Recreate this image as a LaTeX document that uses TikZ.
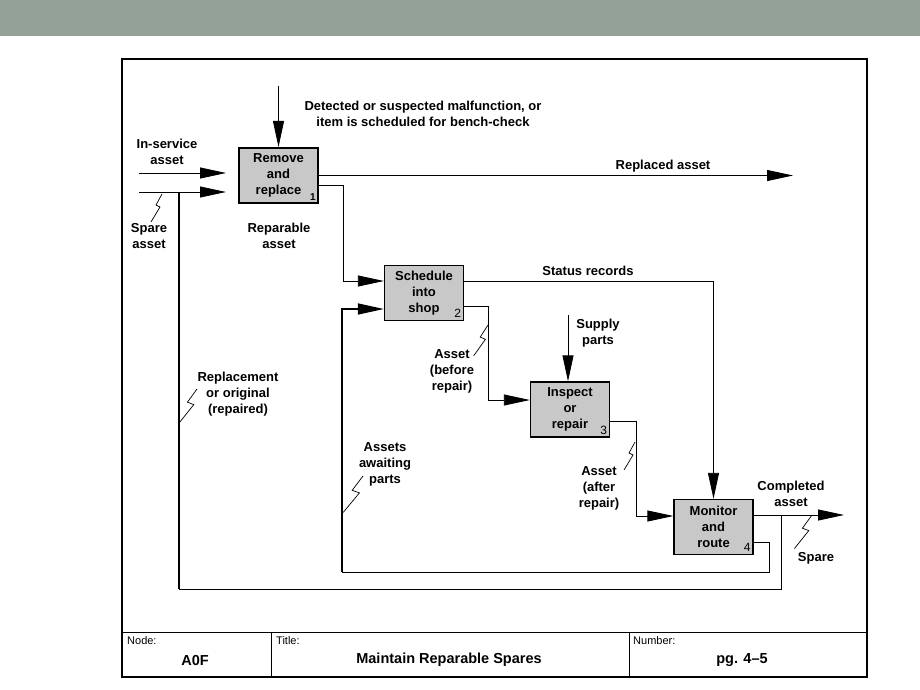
\documentclass[tikz,border=0pt]{standalone}
\usepackage{fontspec}
\setmainfont{Liberation Sans}
\usetikzlibrary{arrows.meta}
\definecolor{barcol}{RGB}{147,161,150}
\definecolor{boxcol}{RGB}{200,200,200}

\begin{document}
\begin{tikzpicture}[x=1pt,y=-1pt,
    lbl/.style={align=center,inner sep=0pt,font=\fontsize{13}{16}\selectfont\bfseries},
    act/.style={draw,line width=1.3pt,fill=boxcol,minimum width=79pt,minimum height=55pt,
        align=center,inner sep=0pt,font=\fontsize{13}{16}\selectfont\bfseries},
    num/.style={anchor=south east,inner sep=3pt,font=\fontsize{12}{12}\selectfont},
    small/.style={anchor=west,inner sep=0pt,font=\fontsize{11}{11}\selectfont},
    big/.style={inner sep=0pt,font=\fontsize{14.5}{16}\selectfont\bfseries},
    flow/.style={line width=0.8pt},
    arr/.style={flow,-{Triangle[length=26pt,width=11pt]}},
    squig/.pic={\draw[line width=0.7pt] (0,0) -- (-6,11) -- (-2,13) -- (-11,28);}]

    \useasboundingbox (0,0) rectangle (920,690);
    \fill[barcol] (0,0) rectangle (920,36);

    % frame and title block
    \draw[line width=1.3pt] (122,59) rectangle (867,677);
    \draw[line width=2pt] (122,59) -- (867,59);
    \draw[flow] (122,632) -- (867,632);
    \draw[flow] (271,632) -- (271,677);
    \draw[flow] (629,632) -- (629,677);
    \node[small] (nodehd) at (127,641) {Node:};
    \node[small] (titlehd) at (276,641) {Title:};
    \node[small] (numhd) at (633,641) {Number:};
    \node[big] (nodeval) at (195,660) {A0F};
    \node[big] (titleval) at (449,660) {Maintain Reparable Spares};
    \node[big] (numval) at (742,660) {pg. 4--5};

    % activities
    \node[act,line width=2pt] (rr) at (278.5,175.5) {Remove\\and\\replace};
    \node[act] (sis) at (424,293) {Schedule\\into\\shop};
    \node[act] (ir) at (570,409.5) {Inspect\\or\\repair};
    \node[act] (mr) at (713.5,527) {Monitor\\and\\route};
    \node[num,font=\fontsize{10}{10}\selectfont\bfseries] at (rr.south east) {1};
    \node[num] at (sis.south east) {2};
    \node[num] at (ir.south east) {3};
    \node[num] at (mr.south east) {4};

    % free ends
    \coordinate (ctrl) at (278.5,86);
    \coordinate (insrv) at (139,173);
    \coordinate (spare) at (139,192);
    \coordinate (repl) at (793,176);
    \coordinate (supply) at (568,315);
    \coordinate (done) at (844,515);
    \coordinate (spl) at (781,515);
    \coordinate (lp) at (179,589);
    \coordinate (wait) at (342,572);

    % connectors
    \draw[arr] (ctrl) -- (rr.north);
    \draw[arr,shorten >=12pt] (insrv) -- (insrv -| rr.west);
    \draw[arr,shorten >=12pt] (spare) -- (spare -| rr.west);
    \draw[arr] (rr.east) -- (rr.east -| repl);
    \draw[arr] ([yshift=-10pt]rr.east) -- ++(24,0) |- ([yshift=12pt]sis.west);
    \draw[arr] ([yshift=12pt]sis.east) -| (mr.north);
    \draw[arr] ([yshift=-13pt]sis.east) -- ++(24,0) |- ([yshift=9.5pt]ir.west);
    \draw[arr] (supply) -- (supply |- ir.north);
    \draw[arr] ([yshift=-12pt]ir.east) -- ++(26,0) |- ([yshift=11pt]mr.west);
    \draw[arr] ([yshift=12pt]mr.east) -- (done);
    \draw[flow] (spl) |- (lp);
    \draw[flow,line width=1.4pt] (lp) -- (lp |- spare);
    \draw[flow] ([yshift=-15pt]mr.east) -- ++(16,0) |- (wait);
    \draw[arr,line width=1.4pt] (wait) |- ([yshift=-16pt]sis.west);

    % squiggles
    \pic at (162,194) {squig};
    \pic[xscale=1.6,yscale=1.2] at (197,389) {squig};
    \pic[xscale=1.8,yscale=1.3] at (363,476) {squig};
    \pic[xscale=1.3,yscale=1.1] at (488,325) {squig};
    \pic at (635,442) {squig};
    \pic[xscale=1.6,yscale=1.2] at (812,515) {squig};

    % labels
    \node[lbl] (malf) at (423,114) {Detected or suspected malfunction, or\\item is scheduled for bench-check};
    \node[lbl] (inlbl) at (167,152) {In-service\\asset};
    \node[lbl] (sparelbl) at (149,236) {Spare\\asset};
    \node[lbl] (replbl) at (279,236) {Reparable\\asset};
    \node[lbl] (repllbl) at (663,166) {Replaced asset};
    \node[lbl] (statlbl) at (588,271) {Status records};
    \node[lbl] (suplbl) at (598,333) {Supply\\parts};
    \node[lbl] (beflbl) at (452,371) {Asset\\(before\\repair)};
    \node[lbl] (orglbl) at (238,394) {Replacement\\or original\\(repaired)};
    \node[lbl] (waitlbl) at (385,464) {Assets\\awaiting\\parts};
    \node[lbl] (aftlbl) at (599,488) {Asset\\(after\\repair)};
    \node[lbl] (donelbl) at (791,494) {Completed\\asset};
    \node[lbl] (sparelbl2) at (816,558) {Spare};

\end{tikzpicture}
\end{document}
